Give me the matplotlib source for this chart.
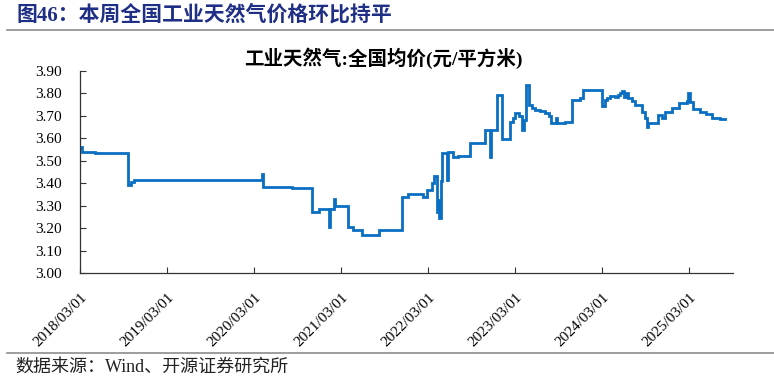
import matplotlib

matplotlib.use("Agg")
import matplotlib.dates as mdates
import matplotlib.pyplot as plt
import pandas as pd
from matplotlib.lines import Line2D

plt.rcParams["font.family"] = ["Liberation Serif", "Noto Sans CJK SC"]

# step changes of the national average industrial gas price (yuan / m3)
dates = [
    "2018-03-01", "2018-03-08", "2018-05-02", "2018-09-17", "2018-09-30", "2018-10-12",
    "2020-04-01", "2020-04-06", "2020-08-05", "2020-10-29", "2020-11-27",
    "2021-01-09", "2021-01-13", "2021-01-29", "2021-02-03", "2021-03-29", "2021-04-19",
    "2021-05-27", "2021-08-06", "2021-11-11", "2021-12-06",
    "2022-02-07", "2022-02-24", "2022-03-17", "2022-03-25", "2022-04-06", "2022-04-11",
    "2022-04-15", "2022-04-23", "2022-04-28", "2022-05-19", "2022-05-23", "2022-06-13",
    "2022-07-04", "2022-08-23", "2022-10-25", "2022-11-15", "2022-11-19", "2022-12-14",
    "2023-01-05", "2023-02-07", "2023-02-19", "2023-02-28", "2023-03-17", "2023-03-29",
    "2023-04-06", "2023-04-15", "2023-04-27", "2023-05-10", "2023-05-23", "2023-06-13",
    "2023-07-04", "2023-07-20", "2023-07-29", "2023-08-19", "2023-08-23", "2023-09-26",
    "2023-10-25", "2023-11-27", "2023-12-10",
    "2024-02-28", "2024-03-11", "2024-03-20", "2024-04-01", "2024-04-22", "2024-05-05",
    "2024-05-13", "2024-05-22", "2024-05-30", "2024-06-08", "2024-06-16", "2024-07-03",
    "2024-07-15", "2024-08-14", "2024-08-26", "2024-09-04", "2024-09-08", "2024-10-20",
    "2024-11-06", "2024-11-18", "2024-12-18",
    "2025-01-17", "2025-02-19", "2025-02-24", "2025-03-04", "2025-03-17", "2025-04-15",
    "2025-05-10", "2025-06-04", "2025-07-08", "2025-07-29",
]
prices = [
    3.563, 3.540, 3.535, 3.392, 3.404, 3.414,
    3.440, 3.382, 3.378, 3.270, 3.284,
    3.206, 3.284, 3.328, 3.298, 3.206, 3.190,
    3.170, 3.190, 3.337, 3.352,
    3.337, 3.370, 3.400, 3.432, 3.273, 3.325,
    3.244, 3.410, 3.536, 3.414, 3.540, 3.518,
    3.521, 3.578, 3.637, 3.515, 3.637, 3.793,
    3.596, 3.674, 3.690, 3.712, 3.700, 3.637,
    3.680, 3.838, 3.749, 3.735, 3.725, 3.720,
    3.712, 3.700, 3.667, 3.689, 3.667, 3.672,
    3.771, 3.778, 3.815,
    3.744, 3.770, 3.779, 3.789, 3.783, 3.792,
    3.800, 3.812, 3.786, 3.800, 3.778, 3.768,
    3.749, 3.719, 3.689, 3.652, 3.667, 3.704,
    3.692, 3.719, 3.734,
    3.756, 3.765, 3.800, 3.760, 3.730, 3.719,
    3.707, 3.692, 3.686, 3.686,
]
tick_dates = ["2018-03-01", "2019-03-01", "2020-03-01", "2021-03-01",
              "2022-03-01", "2023-03-01", "2024-03-01", "2025-03-01"]
y_ticks = [3.00, 3.10, 3.20, 3.30, 3.40, 3.50, 3.60, 3.70, 3.80, 3.90]

title = "图46：本周全国工业天然气价格环比持平"
chart_title = "工业天然气:全国均价(元/平方米)"
source = "数据来源：Wind、开源证券研究所"

x = pd.to_datetime(dates)
ticks = pd.to_datetime(tick_dates)
fam = ["Liberation Serif", "Noto Sans CJK SC"]

fig = plt.figure(figsize=(7.74, 3.81), dpi=100)
ax = fig.add_axes((80 / 774, 1 - 273 / 381, 653 / 774, 202 / 381))

ax.plot(x, prices, drawstyle="steps-post", color="#0a6fc2", lw=2.0, solid_joinstyle="miter")

ax.set_ylim(3.0, 3.9)
ax.set_yticks(y_ticks)
ax.yaxis.set_major_formatter(matplotlib.ticker.FormatStrFormatter("%.2f"))
ax.set_xlim(pd.Timestamp("2018-03-01"), pd.Timestamp("2025-09-01"))
ax.set_xticks(ticks)
ax.xaxis.set_major_formatter(mdates.DateFormatter("%Y/%m/%d"))
plt.setp(ax.get_xticklabels(), rotation=45, ha="right", rotation_mode="anchor")
ax.tick_params(direction="in", length=4, width=0.8, color="#333333", labelsize=11)
ax.tick_params(axis="y", pad=13)
ax.tick_params(axis="x", pad=13)

for s in ("top", "right"):
    ax.spines[s].set_visible(False)
for s in ("left", "bottom"):
    ax.spines[s].set_color("#333333")
    ax.spines[s].set_linewidth(0.9)

fig.text(383 / 774, 1 - 58.5 / 381, chart_title, fontsize=14, fontweight="bold",
         ha="center", va="center", family=fam)

fig.text(16 / 774, 1 - 15.5 / 381, title, fontsize=15, fontweight="bold", color="#1f2f85",
         va="center", family=fam)
fig.add_artist(Line2D([7 / 774, 1], [1 - 29.5 / 381] * 2, color="#8c8c8c", lw=1.2))
fig.add_artist(Line2D([7 / 774, 1], [1 - 353 / 381] * 2, color="#8c8c8c", lw=1.2))
fig.text(15 / 774, 1 - 367 / 381, source, fontsize=13, color="#222222", va="center",
         family=fam)

fig.savefig("out.png", dpi=100)
